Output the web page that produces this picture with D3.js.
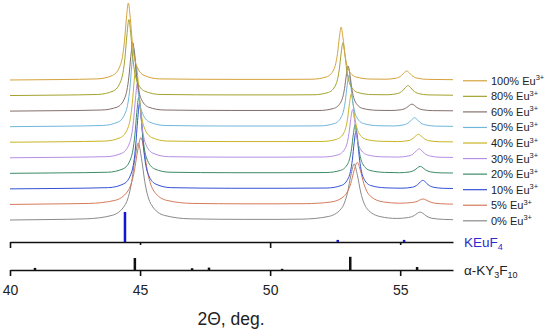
<!DOCTYPE html>
<html>
<head>
<meta charset="utf-8">
<script src="https://cdn.jsdelivr.net/npm/d3@7"></script>
<style>
  body { margin: 0; background: #fff; }
  svg { display: block; font-family: "Liberation Sans", Arial, sans-serif; }
</style>
</head>
<body>
<svg id="chart" width="550" height="332"></svg>
<script>
// XRD patterns, [2theta, intensity a.u.] (baseline = 0)
const eu100 = [[40,0],[42,0.3],[43.35,0.7],[43.95,3],[44.25,9.9],[44.4,24.8],[44.475,39.6],[44.55,49.5],[44.625,39.6],[44.7,24.8],[44.85,9.9],[45.15,3],[45.75,0.7],[48.5,0.4],[50.5,0.4],
  [51.61,0.5],[52.17,2],[52.45,6.8],[52.59,17],[52.66,27.2],[52.73,34],[52.8,27.2],[52.87,17],[53.01,6.8],[53.29,2],[53.85,0.6],
  [54.45,0.5],[54.85,1.2],[55.05,2.9],[55.15,4.6],[55.25,5.8],[55.35,4.6],[55.45,2.9],[55.65,1.2],[56.05,0.4],[57.03,0.2]];
const eu80 = [[40,0],[42,0.3],[43.37,0.7],[43.97,2.9],[44.27,9.8],[44.42,24.4],[44.495,39],[44.57,48.8],[44.645,39],[44.72,24.4],[44.87,9.8],[45.17,2.9],[45.77,0.7],[48.5,0.4],[50.5,0.4],
  [51.68,0.5],[52.24,2],[52.52,6.8],[52.66,17],[52.73,27.2],[52.8,34],[52.87,27.2],[52.94,17],[53.08,6.8],[53.36,2],[53.92,0.6],
  [54.5,0.5],[54.9,1.3],[55.1,3.2],[55.2,5.1],[55.3,6.4],[55.4,5.1],[55.5,3.2],[55.7,1.3],[56.1,0.4],[57.03,0.2]];
const eu60 = [[40,0],[42,0.3],[43.52,0.7],[44.12,2.6],[44.42,8.8],[44.57,22],[44.645,35.2],[44.72,44],[44.795,35.2],[44.87,22],[45.02,8.8],[45.32,2.6],[45.92,0.7],[48.5,0.4],[50.5,0.4],
  [51.88,0.4],[52.44,1.7],[52.72,5.8],[52.86,14.5],[52.93,23.2],[53,29],[53.07,23.2],[53.14,14.5],[53.28,5.8],[53.56,1.7],[54.12,0.5],
  [54.65,0.4],[55.05,0.9],[55.25,2.25],[55.35,3.6],[55.45,4.5],[55.55,3.6],[55.65,2.25],[55.85,0.9],[56.25,0.3],[57.03,0.2]];
const eu50 = [[40,0],[42,0.3],[43.56,0.75],[44.16,3],[44.46,10],[44.61,25],[44.685,40],[44.76,50],[44.835,40],[44.91,25],[45.06,10],[45.36,3],[45.96,0.75],[48.5,0.4],[50.5,0.4],
  [51.91,0.5],[52.47,2],[52.75,6.6],[52.89,16.5],[52.96,26.4],[53.03,33],[53.1,26.4],[53.17,16.5],[53.31,6.6],[53.59,2],[54.15,0.6],
  [54.75,0.45],[55.15,1.2],[55.35,2.9],[55.45,4.6],[55.55,5.8],[55.65,4.6],[55.75,2.9],[55.95,1.2],[56.35,0.35],[57.03,0.2]];
const eu40 = [[40,0],[42,0.3],[43.65,0.75],[44.25,3],[44.55,9.9],[44.7,24.8],[44.775,39.6],[44.85,49.5],[44.925,39.6],[45,24.8],[45.15,9.9],[45.45,3],[46.05,0.75],[48.5,0.4],[50.5,0.4],
  [52,0.5],[52.56,1.9],[52.84,6.2],[52.98,15.5],[53.05,24.8],[53.12,31],[53.19,24.8],[53.26,15.5],[53.4,6.2],[53.68,1.9],[54.24,0.6],
  [54.9,0.4],[55.3,1],[55.5,2.55],[55.6,4.1],[55.7,5.1],[55.8,4.1],[55.9,2.55],[56.1,1],[56.5,0.3],[57.03,0.2]];
const eu30 = [[40,0],[42,0.3],[43.7,0.7],[44.3,2.9],[44.6,9.6],[44.75,24],[44.825,38.4],[44.9,48],[44.975,38.4],[45.05,24],[45.2,9.6],[45.5,2.9],[46.1,0.7],[48.5,0.4],[50.5,0.4],
  [52.05,0.5],[52.61,1.9],[52.89,6.2],[53.03,15.5],[53.1,24.8],[53.17,31],[53.24,24.8],[53.31,15.5],[53.45,6.2],[53.73,1.9],[54.29,0.6],
  [54.93,0.45],[55.33,1.2],[55.53,2.9],[55.63,4.6],[55.73,5.8],[55.83,4.6],[55.93,2.9],[56.13,1.2],[56.53,0.35],[57.03,0.2]];
const eu20 = [[40,0],[42,0.3],[43.75,0.7],[44.35,2.9],[44.65,9.8],[44.8,24.5],[44.875,39.2],[44.95,49],[45.025,39.2],[45.1,24.5],[45.25,9.8],[45.55,2.9],[46.15,0.7],[48.5,0.4],[50.5,0.4],
  [52.15,0.5],[52.71,1.9],[52.99,6.3],[53.13,15.8],[53.2,25.2],[53.27,31.5],[53.34,25.2],[53.41,15.8],[53.55,6.3],[53.83,1.9],[54.39,0.6],
  [54.97,0.4],[55.37,0.9],[55.57,2.25],[55.67,3.6],[55.77,4.5],[55.87,3.6],[55.97,2.25],[56.17,0.9],[56.57,0.3],[57.03,0.2]];
const eu10 = [[40,0],[42,0.3],[43.78,0.8],[44.38,3.3],[44.68,11],[44.83,27.5],[44.905,44],[44.98,55],[45.055,44],[45.13,27.5],[45.28,11],[45.58,3.3],[46.18,0.8],[48.5,0.4],[50.5,0.4],
  [52.18,0.55],[52.74,2.2],[53.02,7.4],[53.16,18.5],[53.23,29.6],[53.3,37],[53.37,29.6],[53.44,18.5],[53.58,7.4],[53.86,2.2],[54.42,0.7],
  [55.07,0.45],[55.47,1.1],[55.67,2.75],[55.77,4.4],[55.87,5.5],[55.97,4.4],[56.07,2.75],[56.27,1.1],[56.67,0.35],[57.03,0.25]];
const eu5 = [[40,0],[41.5,0.3],[43.03,0.65],[44.03,2.6],[44.53,8.6],[44.78,21.5],[44.905,34.4],[45.03,43],[45.155,34.4],[45.28,21.5],[45.53,8.6],[46.03,2.6],[47.03,0.65],[49,0.4],[50.3,0.4],
  [51.35,0.5],[52.35,1.6],[52.85,5.4],[53.1,13.5],[53.225,21.6],[53.35,27],[53.475,21.6],[53.6,13.5],[53.85,5.4],[54.35,1.6],
  [54.98,0.8],[55.43,1.2],[55.655,2],[55.77,3],[55.88,3.5],[55.99,2.9],[56.105,1.9],[56.33,0.8],[56.78,0.3],[57.03,0.2]];
const eu0 = [[40,0],[41.5,0.3],[42.93,0.75],[43.93,3],[44.43,9.9],[44.68,24.8],[44.805,39.6],[44.93,49.5],[45.055,39.6],[45.18,24.8],[45.43,9.9],[45.93,3],[46.93,0.75],[49,0.4],[50.3,0.4],
  [51.23,0.55],[52.23,2.2],[52.73,7.2],[52.98,18],[53.105,28.8],[53.23,36],[53.355,28.8],[53.48,18],[53.73,7.2],[54.23,2.2],
  [54.87,1],[55.32,1.6],[55.545,2.9],[55.66,4.3],[55.77,5.1],[55.88,4.2],[55.995,2.7],[56.22,1.1],[56.67,0.4],[57.03,0.2]];

const seriesData = [eu0, eu5, eu10, eu20, eu30, eu40, eu50, eu60, eu80, eu100];
const seriesNames = ["0%", "5%", "10%", "20%", "30%", "40%", "50%", "60%", "80%", "100%"];
const seriesOffsets = [0, 10, 20, 30, 40, 50, 60, 70, 80, 90];
const seriesColors = ["#8a8a8a", "#d57b5c", "#3552d6", "#3d8c66", "#b58ee6", "#c9b425", "#6fb6dd", "#84706a", "#a3a32e", "#d6a23c"];

// reference patterns [2theta, relative intensity]
const keuf4Sticks = [[44.42, 100], [52.6, 7], [55.15, 7]];
const ky3f10Sticks = [[40.96, 7], [44.8, 40], [47.0, 6], [47.65, 8], [50.46, 4], [53.08, 44], [55.65, 10]];

const xTicks = [40, 45, 50, 55];

const svg = d3.select("#chart");

const x = d3.scaleLinear().domain([40, 57.03]).range([10, 453]);
const y = d3.scaleLinear().domain([0, 140]).range([220, 2.2]);
const stickY = d3.scaleLinear().domain([0, 100]).range([0, 30]);

const keuf4AxisY = 242;
const ky3f10AxisY = 270;

const line = d3.line()
    .x(d => x(d[0]))
    .y(d => d.yv)
    .curve(d3.curveMonotoneX);

// patterns
const curves = svg.append("g");
seriesData.forEach((s, i) => {
    const pts = s.map(d => { const p = [d[0], d[1]]; p.yv = y(d[1] + seriesOffsets[i]); return p; });
    curves.append("path")
        .attr("d", line(pts))
        .attr("fill", "none")
        .attr("stroke", seriesColors[i])
        .attr("stroke-width", 1);
});

// legend
const legend = svg.append("g");
seriesNames.forEach((name, i) => {
    const ly = y(seriesOffsets[i]) + 0.8;
    legend.append("line")
        .attr("x1", 463).attr("x2", 487)
        .attr("y1", ly).attr("y2", ly)
        .attr("stroke", seriesColors[i])
        .attr("stroke-width", 1.2);
    const t = legend.append("text")
        .attr("x", 491).attr("y", ly + 4)
        .attr("font-size", 11)
        .attr("fill", "#222");
    t.append("tspan").text(name + " Eu");
    t.append("tspan").attr("font-size", 7.5).attr("dy", -4.5).text("3+");
});

// KEuF4 axis and sticks
const axisTop = svg.append("g").attr("transform", `translate(0,${keuf4AxisY})`);
axisTop.call(d3.axisBottom(x).tickValues([40, 50]).tickSize(6).tickSizeOuter(0).tickFormat(""));
axisTop.append("g").call(d3.axisBottom(x).tickValues([45, 55]).tickSize(3).tickSizeOuter(0).tickFormat(""))
    .select(".domain").remove();

svg.append("g").selectAll("line")
    .data(keuf4Sticks)
    .join("line")
    .attr("x1", d => x(d[0])).attr("x2", d => x(d[0]))
    .attr("y1", keuf4AxisY).attr("y2", d => keuf4AxisY - stickY(d[1]))
    .attr("stroke", "#1414d2")
    .attr("stroke-width", 2.5);

// KY3F10 axis and sticks
const axisBot = svg.append("g").attr("transform", `translate(0,${ky3f10AxisY})`);
axisBot.call(d3.axisBottom(x).tickValues(xTicks).tickSize(6).tickSizeOuter(0).tickPadding(9));

svg.append("g").selectAll("line")
    .data(ky3f10Sticks)
    .join("line")
    .attr("x1", d => x(d[0])).attr("x2", d => x(d[0]))
    .attr("y1", ky3f10AxisY).attr("y2", d => ky3f10AxisY - stickY(d[1]))
    .attr("stroke", "#111")
    .attr("stroke-width", 2.5);

svg.selectAll(".domain").attr("stroke", "#111").attr("stroke-width", 1.6);
svg.selectAll(".tick line").attr("stroke", "#111").attr("stroke-width", 1.6);
axisBot.selectAll(".tick text")
    .attr("font-size", 14)
    .attr("font-family", "'Liberation Sans', Arial, sans-serif")
    .attr("fill", "#222");

// phase labels
const kLabel = svg.append("text")
    .attr("x", 464).attr("y", keuf4AxisY + 5)
    .attr("font-size", 13.5).attr("fill", "#2a2ad0");
kLabel.append("tspan").text("KEuF");
kLabel.append("tspan").attr("font-size", 9).attr("dy", 3).text("4");

const yLabel = svg.append("text")
    .attr("x", 464).attr("y", ky3f10AxisY + 5)
    .attr("font-size", 13.5).attr("fill", "#222");
yLabel.append("tspan").text("\u03b1-KY");
yLabel.append("tspan").attr("font-size", 9).attr("dy", 3).text("3");
yLabel.append("tspan").attr("dy", -3).text("F");
yLabel.append("tspan").attr("font-size", 9).attr("dy", 3).text("10");

// x axis title
svg.append("text")
    .attr("x", 231).attr("y", 325)
    .attr("text-anchor", "middle")
    .attr("font-size", 17.5)
    .attr("fill", "#222")
    .text("2\u0398, deg.");
</script>
</body>
</html>
